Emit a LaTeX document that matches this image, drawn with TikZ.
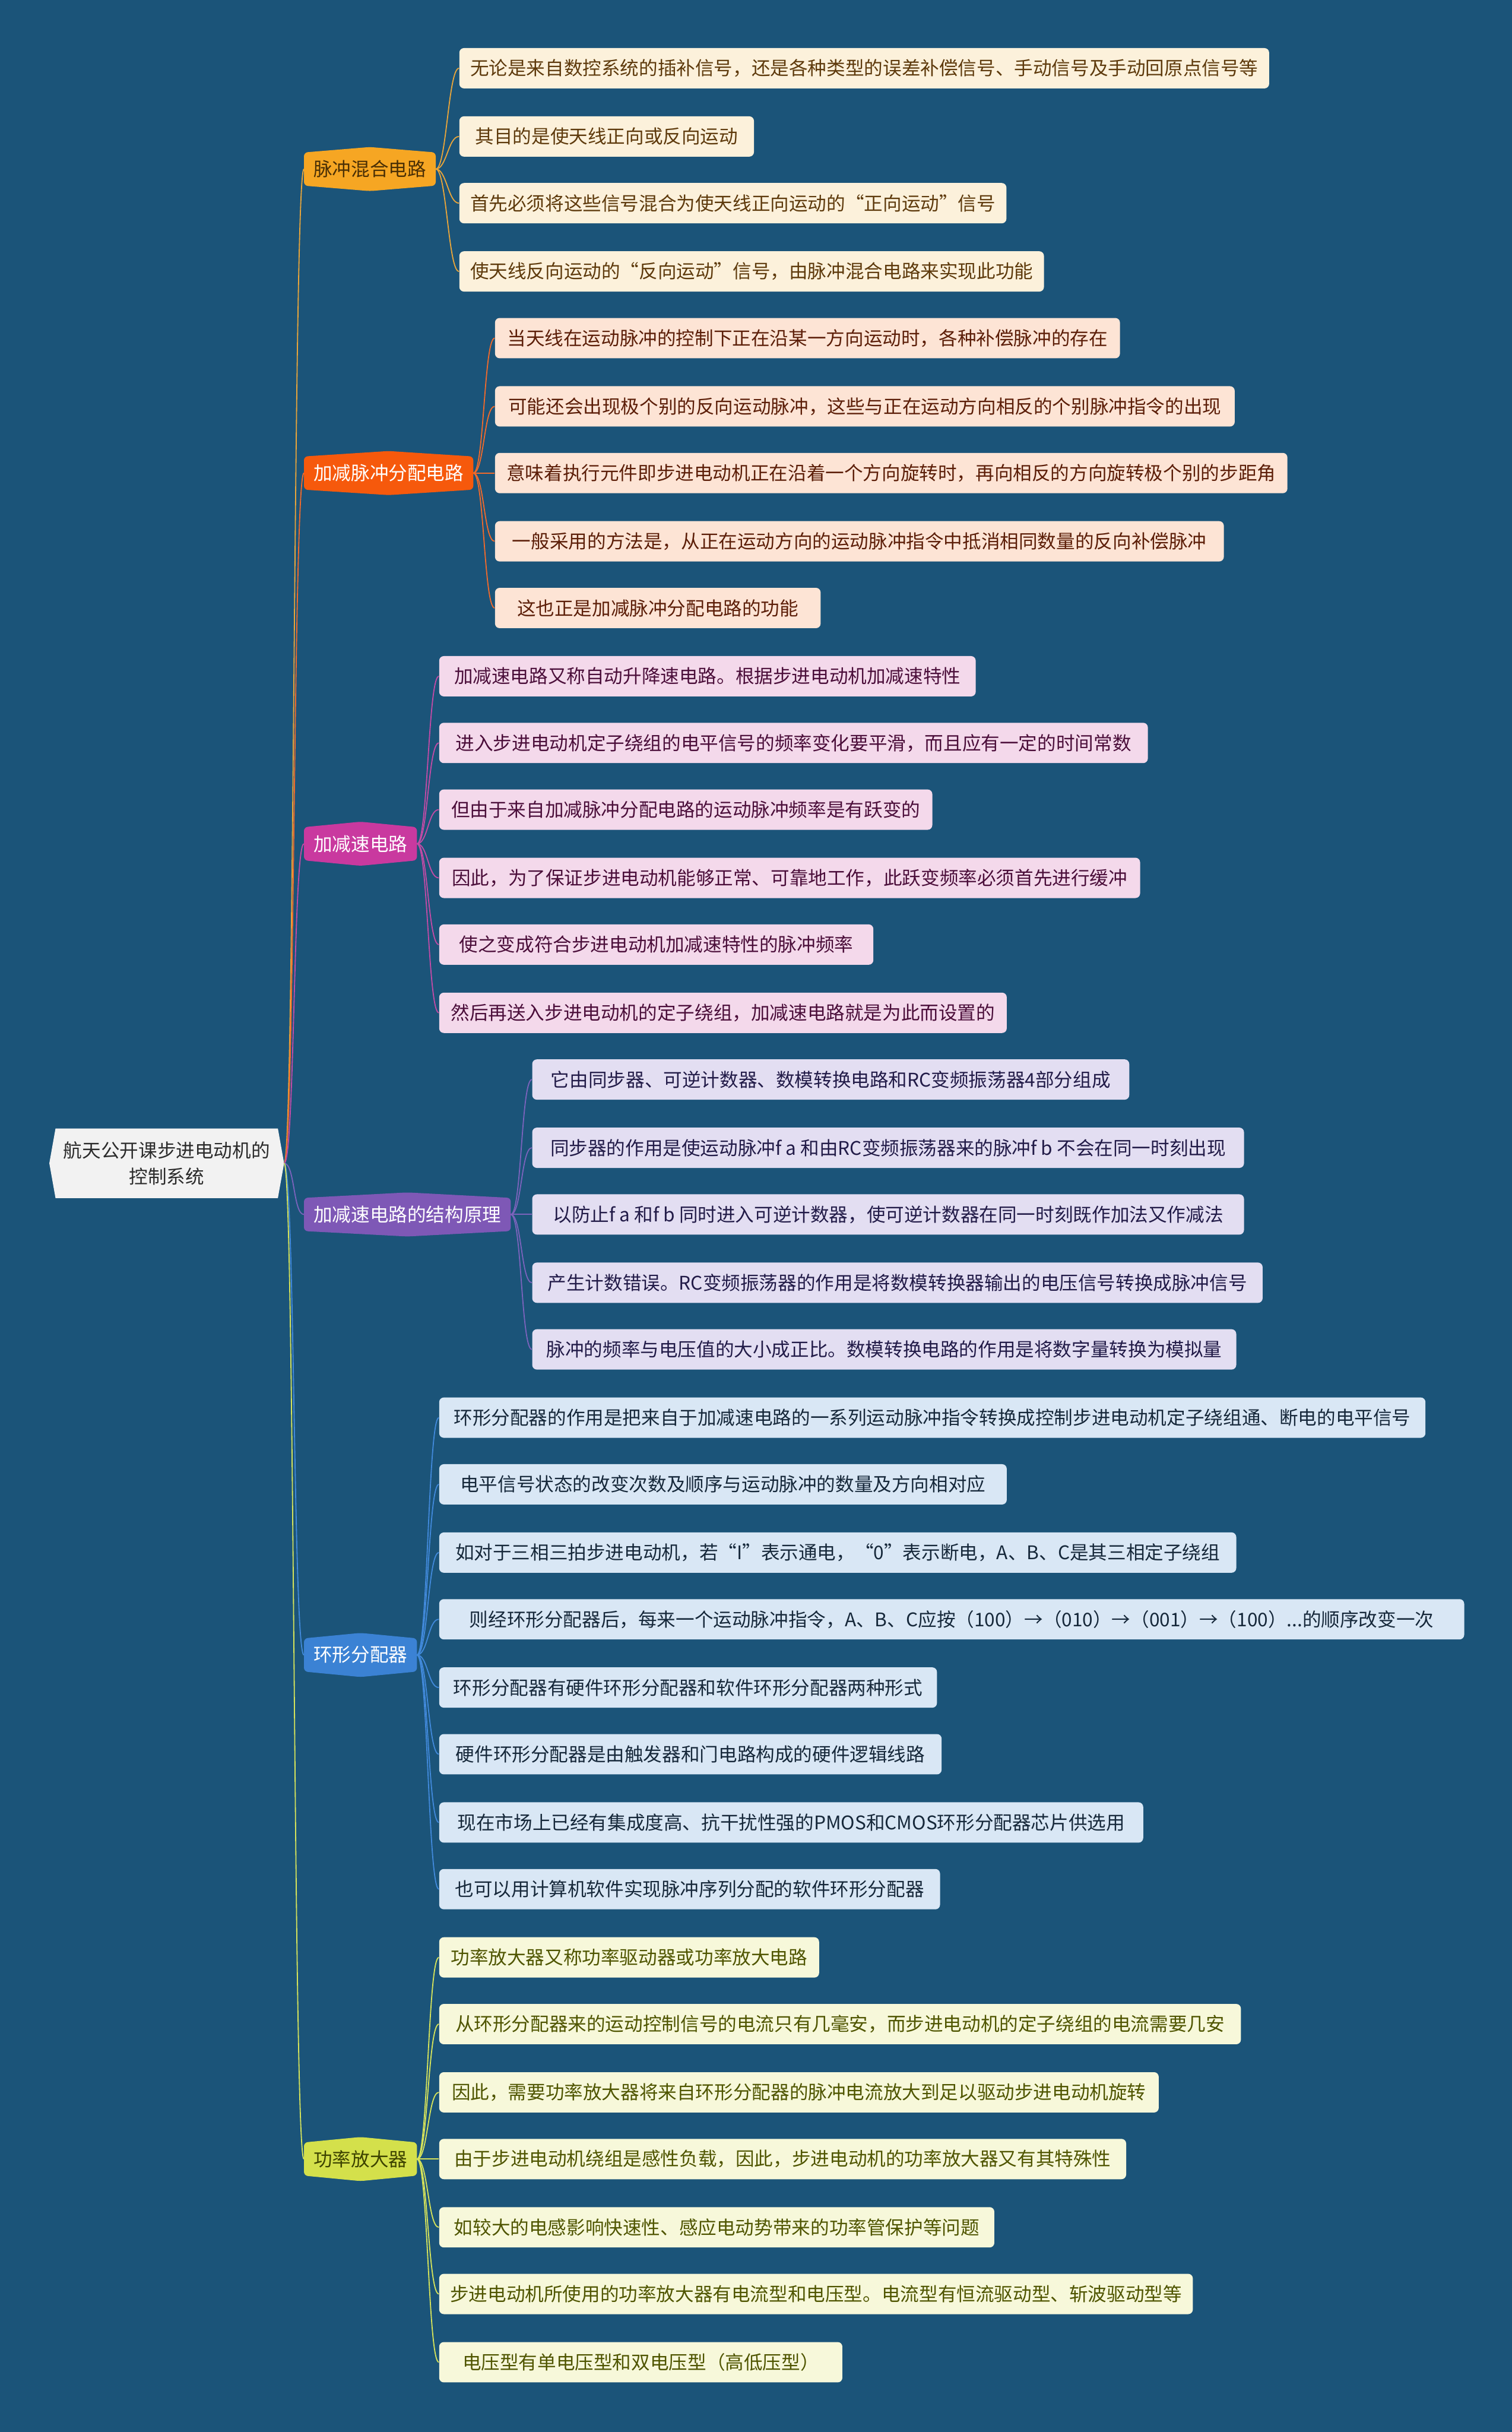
\documentclass[tikz,border=0pt]{standalone}
\usepackage{fontspec}
\setmainfont{Noto Sans CJK SC}
\usetikzlibrary{backgrounds}

\definecolor{canvas}{HTML}{1B5479}
\definecolor{rootFill}{HTML}{F2F2F2}
\definecolor{rootText}{HTML}{2B2B2B}
% branch / leaf / line colours
\definecolor{brA}{HTML}{F6A623}\definecolor{btA}{HTML}{4A2F05}\definecolor{lfA}{HTML}{FCF1DB}\definecolor{ltA}{HTML}{5E3A0C}\definecolor{lnA}{HTML}{E9A53A}
\definecolor{brB}{HTML}{F6590C}\definecolor{btB}{HTML}{FFFFFF}\definecolor{lfB}{HTML}{FDE4D5}\definecolor{ltB}{HTML}{5C1E08}\definecolor{lnB}{HTML}{F06A2C}
\definecolor{brC}{HTML}{C9399F}\definecolor{btC}{HTML}{FFFFFF}\definecolor{lfC}{HTML}{F4D9EB}\definecolor{ltC}{HTML}{4B0E3A}\definecolor{lnC}{HTML}{C24BA6}
\definecolor{brD}{HTML}{7E58B6}\definecolor{btD}{HTML}{FFFFFF}\definecolor{lfD}{HTML}{E3DEF2}\definecolor{ltD}{HTML}{221B48}\definecolor{lnD}{HTML}{7B63BC}
\definecolor{brE}{HTML}{3B82D4}\definecolor{btE}{HTML}{FFFFFF}\definecolor{lfE}{HTML}{D9E7F5}\definecolor{ltE}{HTML}{16283A}\definecolor{lnE}{HTML}{4189DA}
\definecolor{brF}{HTML}{D4E04B}\definecolor{btF}{HTML}{3D4300}\definecolor{lfF}{HTML}{F7F8DA}\definecolor{ltF}{HTML}{4F5500}\definecolor{lnF}{HTML}{D6E35A}

\newcommand{\mmfont}{\fontsize{12.1pt}{17pt}\selectfont}
% pointed top/bottom box behind a branch node
\newcommand{\branchshape}[2]{%
  \fill[#2, rounded corners=2.5pt] ([yshift=-3.5pt]#1.north west) -- (#1.north) -- ([yshift=-3.5pt]#1.north east)
    -- ([yshift=3.5pt]#1.south east) -- (#1.south) -- ([yshift=3.5pt]#1.south west) -- cycle;}

\begin{document}
\begin{tikzpicture}[
    x=1pt, y=-1pt,
    every node/.style={font=\mmfont},
    root/.style={minimum width=151pt, minimum height=44.5pt, align=center, text=rootText, inner sep=0pt},
    branch/.style={anchor=west, minimum height=28pt, inner xsep=6pt, inner ysep=0pt},
    leaf/.style={anchor=west, rounded corners=3pt, minimum height=26pt, inner xsep=7pt, inner ysep=0pt},
    link/.style={line width=0.7pt}
]
\useasboundingbox (0,0) rectangle (975,1568);

\node[root] (course) at (107.5,750) {航天公开课步进电动机的\\控制系统};

\node[branch, text=btA] (mix) at (196,109) {脉冲混合电路};
\node[branch, text=btB] (addsub) at (196,305) {加减脉冲分配电路};
\node[branch, text=btC] (accel) at (196,544) {加减速电路};
\node[branch, text=btD] (struct) at (196,783) {加减速电路的结构原理};
\node[branch, text=btE] (ring) at (196,1067) {环形分配器};
\node[branch, text=btF] (power) at (196,1392) {功率放大器};

\begin{scope}[on background layer]
  \fill[canvas] (0,0) rectangle (975,1568);
  \fill[rootFill] ([xshift=4pt]course.north west) -- ([xshift=-4pt]course.north east) -- (course.east)
    -- ([xshift=-4pt]course.south east) -- ([xshift=4pt]course.south west) -- (course.west) -- cycle;
  \branchshape{mix}{brA}
  \branchshape{addsub}{brB}
  \branchshape{accel}{brC}
  \branchshape{struct}{brD}
  \branchshape{ring}{brE}
  \branchshape{power}{brF}
\end{scope}

% root to branches
\draw[link, lnA] (course.east) .. controls +(7,0) and +(-7,0) .. (mix.west);
\draw[link, lnB] (course.east) .. controls +(7,0) and +(-7,0) .. (addsub.west);
\draw[link, lnC] (course.east) .. controls +(7,0) and +(-7,0) .. (accel.west);
\draw[link, lnD] (course.east) .. controls +(7,0) and +(-7,0) .. (struct.west);
\draw[link, lnE] (course.east) .. controls +(7,0) and +(-7,0) .. (ring.west);
\draw[link, lnF] (course.east) .. controls +(7,0) and +(-7,0) .. (power.west);

% 脉冲混合电路
\foreach \y/\w/\t [count=\i] in {
  44/522/{无论是来自数控系统的插补信号，还是各种类型的误差补偿信号、手动信号及手动回原点信号等},
  88/190/{其目的是使天线正向或反向运动},
  131/351/{首先必须将这些信号混合为使天线正向运动的“正向运动”信号},
  175/377/{使天线反向运动的“反向运动”信号，由脉冲混合电路来实现此功能}} {
  \node[leaf, fill=lfA, text=ltA, minimum width=\w pt] (mix-\i) at (296,\y) {\t};
  \draw[link, lnA] (mix.east) .. controls +(7,0) and +(-7,0) .. (mix-\i.west);
}

% 加减脉冲分配电路
\foreach \y/\w/\t [count=\i] in {
  218/403/{当天线在运动脉冲的控制下正在沿某一方向运动时，各种补偿脉冲的存在},
  262/477/{可能还会出现极个别的反向运动脉冲，这些与正在运动方向相反的个别脉冲指令的出现},
  305/511/{意味着执行元件即步进电动机正在沿着一个方向旋转时，再向相反的方向旋转极个别的步距角},
  349/470/{一般采用的方法是，从正在运动方向的运动脉冲指令中抵消相同数量的反向补偿脉冲},
  392/210/{这也正是加减脉冲分配电路的功能}} {
  \node[leaf, fill=lfB, text=ltB, minimum width=\w pt] (addsub-\i) at (319,\y) {\t};
  \draw[link, lnB] (addsub.east) .. controls +(7,0) and +(-7,0) .. (addsub-\i.west);
}

% 加减速电路
\foreach \y/\w/\t [count=\i] in {
  436/346/{加减速电路又称自动升降速电路。根据步进电动机加减速特性},
  479/457/{进入步进电动机定子绕组的电平信号的频率变化要平滑，而且应有一定的时间常数},
  522/318/{但由于来自加减脉冲分配电路的运动脉冲频率是有跃变的},
  566/452/{因此，为了保证步进电动机能够正常、可靠地工作，此跃变频率必须首先进行缓冲},
  609/280/{使之变成符合步进电动机加减速特性的脉冲频率},
  653/366/{然后再送入步进电动机的定子绕组，加减速电路就是为此而设置的}} {
  \node[leaf, fill=lfC, text=ltC, minimum width=\w pt] (accel-\i) at (283,\y) {\t};
  \draw[link, lnC] (accel.east) .. controls +(7,0) and +(-7,0) .. (accel-\i.west);
}

% 加减速电路的结构原理
\foreach \y/\w/\t [count=\i] in {
  696/385/{它由同步器、可逆计数器、数模转换电路和RC变频振荡器4部分组成},
  740/459/{同步器的作用是使运动脉冲f a 和由RC变频振荡器来的脉冲f b 不会在同一时刻出现},
  783/459/{以防止f a 和f b 同时进入可逆计数器，使可逆计数器在同一时刻既作加法又作减法},
  827/471/{产生计数错误。RC变频振荡器的作用是将数模转换器输出的电压信号转换成脉冲信号},
  870/454/{脉冲的频率与电压值的大小成正比。数模转换电路的作用是将数字量转换为模拟量}} {
  \node[leaf, fill=lfD, text=ltD, minimum width=\w pt] (struct-\i) at (343,\y) {\t};
  \draw[link, lnD] (struct.east) .. controls +(7,0) and +(-7,0) .. (struct-\i.west);
}

% 环形分配器
\foreach \y/\w/\t [count=\i] in {
  914/636/{环形分配器的作用是把来自于加减速电路的一系列运动脉冲指令转换成控制步进电动机定子绕组通、断电的电平信号},
  957/366/{电平信号状态的改变次数及顺序与运动脉冲的数量及方向相对应},
  1001/514/{如对于三相三拍步进电动机，若“I”表示通电，“0”表示断电，A、B、C是其三相定子绕组},
  1044/661/{则经环形分配器后，每来一个运动脉冲指令，A、B、C应按（100）→（010）→（001）→（100）...的顺序改变一次},
  1088/321/{环形分配器有硬件环形分配器和软件环形分配器两种形式},
  1131/324/{硬件环形分配器是由触发器和门电路构成的硬件逻辑线路},
  1175/454/{现在市场上已经有集成度高、抗干扰性强的PMOS和CMOS环形分配器芯片供选用},
  1218/323/{也可以用计算机软件实现脉冲序列分配的软件环形分配器}} {
  \node[leaf, fill=lfE, text=ltE, minimum width=\w pt] (ring-\i) at (283,\y) {\t};
  \draw[link, lnE] (ring.east) .. controls +(7,0) and +(-7,0) .. (ring-\i.west);
}

% 功率放大器
\foreach \y/\w/\t [count=\i] in {
  1262/245/{功率放大器又称功率驱动器或功率放大电路},
  1305/517/{从环形分配器来的运动控制信号的电流只有几毫安，而步进电动机的定子绕组的电流需要几安},
  1349/464/{因此，需要功率放大器将来自环形分配器的脉冲电流放大到足以驱动步进电动机旋转},
  1392/443/{由于步进电动机绕组是感性负载，因此，步进电动机的功率放大器又有其特殊性},
  1436/358/{如较大的电感影响快速性、感应电动势带来的功率管保护等问题},
  1479/486/{步进电动机所使用的功率放大器有电流型和电压型。电流型有恒流驱动型、斩波驱动型等},
  1523/260/{电压型有单电压型和双电压型（高低压型）}} {
  \node[leaf, fill=lfF, text=ltF, minimum width=\w pt] (power-\i) at (283,\y) {\t};
  \draw[link, lnF] (power.east) .. controls +(7,0) and +(-7,0) .. (power-\i.west);
}

\end{tikzpicture}
\end{document}
